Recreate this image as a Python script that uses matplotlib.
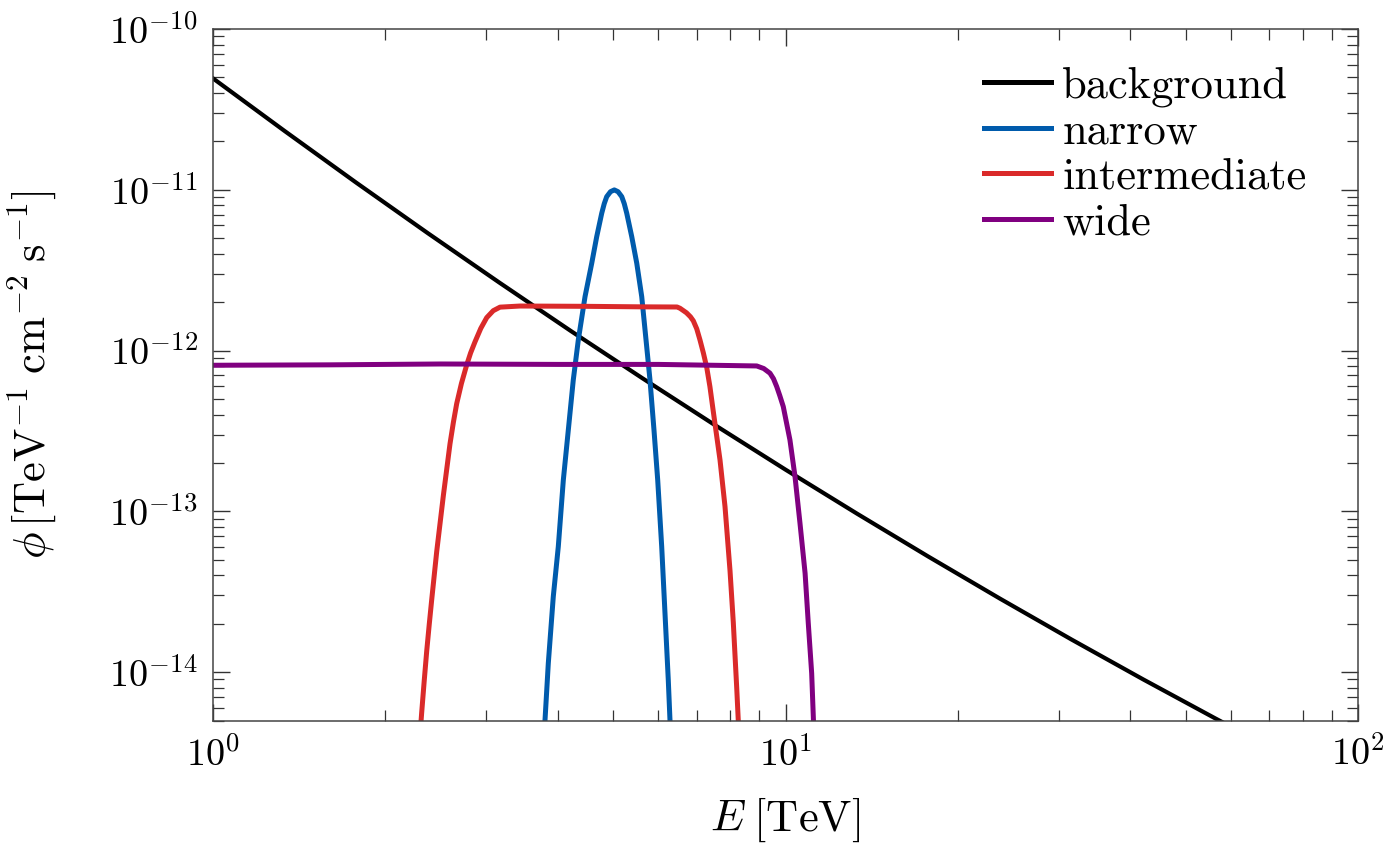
import matplotlib
matplotlib.use("Agg")
import matplotlib.pyplot as plt
from matplotlib.ticker import LogLocator, NullFormatter

# ---------------- data ----------------
bg_E = [1.0, 1.334, 1.778, 2.371, 3.162, 4.217, 5.623, 7.499, 10.0, 13.34, 17.78,
        23.71, 31.62, 42.17, 56.23, 70.79]
bg_phi = [4.93e-11, 2.32e-11, 1.109e-11, 5.38e-12, 2.65e-12, 1.324e-12, 6.73e-13,
          3.47e-13, 1.817e-13, 9.66e-14, 5.22e-14, 2.86e-14, 1.592e-14, 9.0e-15,
          5.17e-15, 3.35e-15]

narrow_E = [3.767, 3.801, 3.852, 3.930, 4.010, 4.092, 4.175, 4.259, 4.346, 4.465, 4.587,
            4.680, 4.775, 4.824, 4.872, 4.947, 5.023, 5.099, 5.176, 5.228, 5.281, 5.388,
            5.498, 5.609, 5.722, 5.798, 5.892, 5.981, 6.078, 6.159, 6.241, 6.284, 6.324]
narrow_phi = [2.8e-15, 5.01e-15, 1.135e-14, 2.95e-14, 6.03e-14, 1.567e-13, 3.21e-13,
              6.56e-13, 1.164e-12, 2.163e-12, 3.49e-12, 5.11e-12, 7.14e-12, 8.2e-12,
              9.06e-12, 9.73e-12, 9.98e-12, 9.73e-12, 9.06e-12, 8.2e-12, 7.14e-12, 5.11e-12,
              3.49e-12, 2.163e-12, 1.057e-12, 6.56e-13, 3.21e-13, 1.567e-13, 6.03e-14,
              2.32e-14, 8.93e-15, 5.01e-15, 3.2e-15]

inter_E = [2.296, 2.315, 2.339, 2.362, 2.386, 2.410, 2.459, 2.526, 2.594, 2.630, 2.665,
           2.716, 2.774, 2.818, 2.869, 2.936, 3.007, 3.087, 3.172, 3.438, 4.467, 5.623,
           6.465, 6.543, 6.714, 6.823, 6.902, 6.998, 7.091, 7.187, 7.285, 7.379, 7.480,
           7.684, 7.840, 8.000, 8.106, 8.219, 8.270, 8.299]
inter_phi = [3.80e-15, 5.62e-15, 8.91e-15, 1.349e-14, 1.972e-14, 2.82e-14, 5.62e-14,
             1.259e-13, 2.63e-13, 3.59e-13, 4.68e-13, 6.24e-13, 8.13e-13, 9.66e-13,
             1.135e-12, 1.374e-12, 1.603e-12, 1.770e-12, 1.862e-12, 1.892e-12, 1.884e-12,
             1.87e-12, 1.866e-12, 1.832e-12, 1.718e-12, 1.622e-12, 1.531e-12, 1.365e-12,
             1.161e-12, 9.66e-13, 7.85e-13, 5.96e-13, 4.17e-13, 2.09e-13, 1.072e-13,
             4.27e-14, 2.04e-14, 7.94e-15, 5.0e-15, 3.8e-15]

wide_E = [1.0, 1.6, 2.5, 4.0, 6.0, 8.908, 9.162, 9.395, 9.528, 9.652, 9.772, 9.911, 10.18,
          10.39, 10.60, 10.82, 10.96, 11.11, 11.19, 11.22]
wide_phi = [8.1e-13, 8.15e-13, 8.25e-13, 8.2e-13, 8.2e-13, 8.02e-13, 7.73e-13, 7.23e-13,
            6.68e-13, 5.97e-13, 5.25e-13, 4.48e-13, 2.78e-13, 1.644e-13, 8.43e-14,
            4.12e-14, 2.01e-14, 9.84e-15, 5.0e-15, 3.2e-15]

labels = ["background", "narrow", "intermediate", "wide"]
colors = ["#000000", "#005BAC", "#DA2A2A", "#800080"]

x_ticks = [1, 10, 100]
x_ticklabels = [r"$10^{0}$", r"$10^{1}$", r"$10^{2}$"]
y_ticks = [1e-14, 1e-13, 1e-12, 1e-11, 1e-10]
y_ticklabels = [r"$10^{-14}$", r"$10^{-13}$", r"$10^{-12}$", r"$10^{-11}$", r"$10^{-10}$"]

# ---------------- style ----------------
plt.rcParams["mathtext.fontset"] = "cm"
plt.rcParams["font.family"] = ["cmr10", "DejaVu Serif"]
plt.rcParams["axes.unicode_minus"] = False

DPI = 100
fig = plt.figure(figsize=(1391 / DPI, 847 / DPI), dpi=DPI)
ax = fig.add_axes([213 / 1391, 126.5 / 847, (1358 - 213) / 1391, (720.5 - 29) / 847])

series = [(bg_E, bg_phi), (narrow_E, narrow_phi), (inter_E, inter_phi), (wide_E, wide_phi)]
widths = [3.0, 3.6, 3.6, 3.6]
for (E, phi), lab, col, lw in zip(series, labels, colors, widths):
    ax.plot(E, phi, color=col, lw=lw, label=lab, solid_joinstyle="round")

ax.set_xscale("log")
ax.set_yscale("log")
ax.set_xlim(1, 100)
ax.set_ylim(5e-15, 1e-10)

ax.set_xticks(x_ticks)
ax.set_xticklabels(x_ticklabels)
ax.set_yticks(y_ticks)
ax.set_yticklabels(y_ticklabels)
ax.xaxis.set_minor_locator(LogLocator(base=10, subs=range(2, 10), numticks=20))
ax.yaxis.set_minor_locator(LogLocator(base=10, subs=range(2, 10), numticks=20))
ax.xaxis.set_minor_formatter(NullFormatter())
ax.yaxis.set_minor_formatter(NullFormatter())

ax.tick_params(which="both", direction="in", top=True, right=True, color="#333333")
ax.tick_params(which="major", length=12, width=1.0, labelsize=27.5, pad=11)
ax.tick_params(which="minor", length=8, width=0.9)
for s in ax.spines.values():
    s.set_color("#444444")
    s.set_linewidth(1.1)

ax.set_xlabel(r"$E\;[\mathrm{TeV}]$", fontsize=32, labelpad=16)
ax.set_ylabel(r"$\phi\,[\mathrm{TeV}^{-1}\;\mathrm{cm}^{-2}\;\mathrm{s}^{-1}]$", fontsize=32, labelpad=36)

leg = ax.legend(loc="upper right", bbox_to_anchor=(0.955, 0.946), frameon=False,
                fontsize=32, handlelength=1.5, handletextpad=0.25, labelspacing=0.12,
                borderaxespad=0.0, borderpad=0.0)
for line in leg.get_lines():
    line.set_linewidth(3.6)

fig.savefig("out.png", dpi=DPI, facecolor="white")
